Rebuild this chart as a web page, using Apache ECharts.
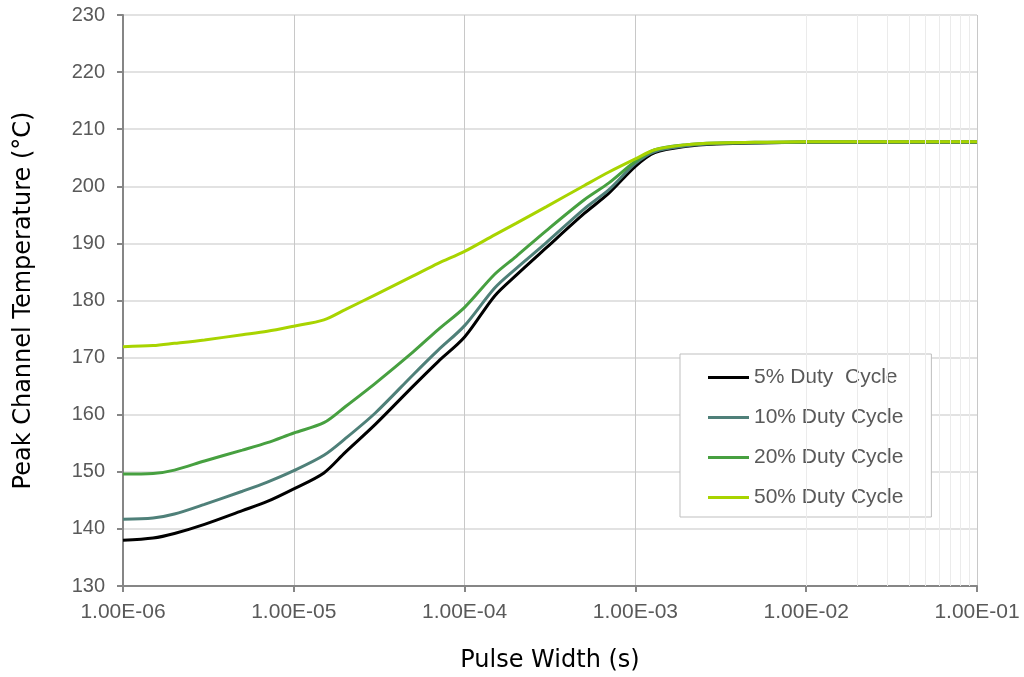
<!DOCTYPE html>
<html>
<head>
<meta charset="utf-8">
<script src="https://cdn.jsdelivr.net/npm/echarts@6/dist/echarts.min.js"></script>
<style>
  html, body { margin: 0; padding: 0; background: #fff; }
  #chart { width: 1024px; height: 677px; }
</style>
</head>
<body>
<div id="chart"></div>
<script>
// ----------data----------
// pulse width (s)
const pulseWidths = [1e-6, 1.5e-6, 2e-6, 3e-6, 5e-6, 7e-6, 1e-5, 1.5e-5, 2e-5, 3e-5, 5e-5, 7e-5,
  1e-4, 1.5e-4, 2e-4, 3e-4, 5e-4, 7e-4, 1e-3, 1.3e-3, 2e-3, 3e-3, 5e-3, 1e-2, 3e-2, 1e-1];

// peak channel temperature (°C)
const duty5 = [138.0, 138.4, 139.2, 140.8, 143.2, 144.8, 147.0, 149.8, 153.4, 158.3, 165.0, 169.3,
  173.6, 180.8, 184.4, 189.2, 195.2, 198.8, 203.5, 205.9, 207.0, 207.4, 207.6, 207.7, 207.7, 207.7];
const duty10 = [141.7, 141.9, 142.6, 144.3, 146.6, 148.2, 150.2, 152.9, 155.8, 160.3, 167.0, 171.3,
  175.6, 182.2, 185.6, 190.1, 196.0, 199.4, 204.0, 206.1, 207.1, 207.5, 207.6, 207.7, 207.7, 207.7];
const duty20 = [149.6, 149.7, 150.3, 151.9, 153.8, 155.1, 156.8, 158.6, 161.4, 165.5, 171.0, 174.9,
  178.8, 184.6, 187.7, 192.2, 197.6, 200.6, 204.4, 206.4, 207.3, 207.6, 207.7, 207.8, 207.8, 207.8];
const duty50 = [171.9, 172.1, 172.5, 173.1, 174.0, 174.6, 175.5, 176.6, 178.4, 181.0, 184.3, 186.5,
  188.6, 191.5, 193.5, 196.4, 200.1, 202.5, 204.8, 206.4, 207.3, 207.6, 207.7, 207.8, 207.8, 207.8];

const seriesNames = ['5% Duty  Cycle', '10% Duty Cycle', '20% Duty Cycle', '50% Duty Cycle'];
const seriesColors = ['#000000', '#4F8079', '#47A040', '#A8D400'];

// minor grid positions (2..9 of each decade)
const minorTicks = [];
for (let e = -6; e < -1; e++) {
  for (let m = 2; m <= 9; m++) minorTicks.push(m * Math.pow(10, e));
}
// ------------------------

const chart = echarts.init(document.getElementById('chart'));

const toPairs = (ys) => pulseWidths.map((x, i) => [x, ys[i]]);

// 1.00E-06 style label
const sciLabel = (v) => {
  const exp = Math.round(Math.log10(v));
  const sign = exp < 0 ? '-' : '+';
  const abs = Math.abs(exp);
  return '1.00E' + sign + (abs < 10 ? '0' + abs : abs);
};

const axisGray = '#868686';
const titleFont = 'DejaVu Sans, Liberation Sans, Arial, sans-serif';

const lineSeries = [duty5, duty10, duty20, duty50].map((d, i) => ({
  name: seriesNames[i],
  type: 'line',
  data: toPairs(d),
  color: seriesColors[i],
  symbol: 'none',
  smooth: 0.3,
  lineStyle: { width: 3, color: seriesColors[i] },
  z: 3,
}));

const option = {
  animation: false,
  backgroundColor: '#fff',
  textStyle: { fontFamily: 'Liberation Sans, Arial, sans-serif' },
  grid: { left: 123, right: 47, top: 15, bottom: 91, outerBoundsMode: 'none' },
  legend: {
    data: seriesNames,
    orient: 'vertical',
    left: 680,
    top: 354,
    backgroundColor: '#fff',
    borderColor: '#BFBFBF',
    borderWidth: 1,
    padding: [13, 28, 9, 28],
    itemWidth: 41,
    itemHeight: 3,
    icon: 'rect',
    itemGap: 19,
    textStyle: { fontSize: 21, color: '#595959', lineHeight: 21 },
  },
  xAxis: {
    type: 'log',
    logBase: 10,
    min: 1e-6,
    max: 1e-1,
    name: 'Pulse Width (s)',
    nameLocation: 'middle',
    nameGap: 63,
    nameTextStyle: { fontSize: 24, color: '#000', fontFamily: titleFont },
    axisLine: { lineStyle: { color: axisGray, width: 2 } },
    axisTick: { show: true, length: 6, lineStyle: { color: axisGray, width: 2 } },
    axisLabel: { fontSize: 21, color: '#595959', margin: 16, formatter: sciLabel },
    splitLine: { show: true, lineStyle: { color: '#C8C8C8', width: 1 } },
  },
  yAxis: {
    type: 'value',
    min: 130,
    max: 230,
    interval: 10,
    name: 'Peak Channel Temperature (°C)',
    nameLocation: 'middle',
    nameGap: 87,
    nameTextStyle: { fontSize: 24, color: '#000', fontFamily: titleFont },
    axisLine: { show: true, lineStyle: { color: axisGray, width: 2 } },
    axisTick: { show: true, length: 6, lineStyle: { color: axisGray, width: 2 } },
    axisLabel: { fontSize: 20, color: '#595959', margin: 18 },
    splitLine: { show: true, lineStyle: { color: '#D9D9D9', width: 1.5 } },
  },
  series: [
    // 次要格線
    {
      name: 'minor',
      type: 'line',
      data: [],
      silent: true,
      z: 1,
      markLine: {
        silent: true,
        symbol: ['none', 'none'],
        label: { show: false },
        lineStyle: { color: '#EBEBEB', width: 1, type: 'solid' },
        emphasis: { disabled: true },
        data: minorTicks.map((v) => ({ xAxis: v })),
      },
    },
    ...lineSeries,
  ],
};

chart.setOption(option);
</script>
</body>
</html>
